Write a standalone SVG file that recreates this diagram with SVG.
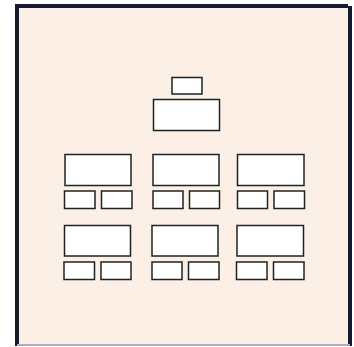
<svg xmlns="http://www.w3.org/2000/svg" width="354" height="347" viewBox="0 0 354 347">
  <style>
    .box { fill: #ffffff; stroke: #1c2422; stroke-width: 1.5; }
    .frame { stroke: #151a33; stroke-width: 4; fill: none; }
  </style>
  <rect x="0" y="0" width="354" height="347" fill="#ffffff"/>
  <rect x="17" y="6" width="333" height="339" fill="#fbefe6"/>
  <g id="frame">
    <line class="frame" x1="17" y1="4" x2="17" y2="346"/>
    <line class="frame" x1="15" y1="6" x2="348" y2="6"/>
    <line class="frame" x1="350" y1="6" x2="350" y2="346" stroke-width="3"/>
    <line x1="17" y1="345" x2="350" y2="345" stroke="#aab0c4" stroke-width="2"/>
  </g>
  <g id="connectors"></g>
  <g id="top-small"><rect class="box" x="172" y="77.5" width="30" height="16.5"/></g>
  <g id="top-main"><rect class="box" x="153.5" y="99.5" width="66" height="31"/></g>

  <g id="r1-left">
    <rect class="box" x="65" y="154.5" width="66" height="31"/>
    <rect class="box" x="64.5" y="191" width="30.5" height="17.5"/>
    <rect class="box" x="101.5" y="191" width="30.5" height="17.5"/>
  </g>
  <g id="r1-mid">
    <rect class="box" x="153" y="154.5" width="66" height="31"/>
    <rect class="box" x="153" y="191" width="30" height="17.5"/>
    <rect class="box" x="189.5" y="191" width="30" height="17.5"/>
  </g>
  <g id="r1-right">
    <rect class="box" x="237.5" y="154.5" width="66.5" height="31"/>
    <rect class="box" x="237.5" y="191" width="30" height="17.5"/>
    <rect class="box" x="274" y="191" width="30.5" height="17.5"/>
  </g>

  <g id="r2-left">
    <rect class="box" x="64.5" y="225.5" width="66" height="30.5"/>
    <rect class="box" x="64" y="262" width="30.5" height="17.5"/>
    <rect class="box" x="101" y="262" width="30" height="17.5"/>
  </g>
  <g id="r2-mid">
    <rect class="box" x="152" y="225.5" width="66" height="30.5"/>
    <rect class="box" x="152" y="262" width="30" height="17.5"/>
    <rect class="box" x="188.5" y="262" width="30.5" height="17.5"/>
  </g>
  <g id="r2-right">
    <rect class="box" x="237" y="225.5" width="66.5" height="30.5"/>
    <rect class="box" x="236.5" y="262" width="30.5" height="17.5"/>
    <rect class="box" x="273.5" y="262" width="30.5" height="17.5"/>
  </g>
</svg>
